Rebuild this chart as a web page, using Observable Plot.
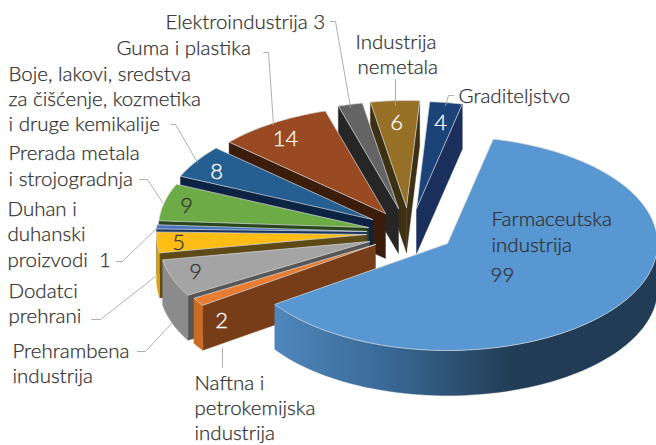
<!DOCTYPE html>
<html><head><meta charset="utf-8">
<style>html,body{margin:0;padding:0;background:#fff}svg{display:block}</style>
<script src="https://cdn.jsdelivr.net/npm/d3@7"></script>
<script src="https://cdn.jsdelivr.net/npm/@observablehq/plot@0.6"></script>
</head><body><div id="chart"></div>
<script>
// Slices, in drawing order (back to front); the big slice comes last
const categories = ["Graditeljstvo","Industrija nemetala","Elektroindustrija","Guma i plastika","Boje, lakovi, sredstva za čišćenje, kozmetika i druge kemikalije","Prerada metala i strojogradnja","Duhan i duhanski proizvodi","Dodatci prehrani","Prehrambena industrija","Naftna i petrokemijska industrija","Farmaceutska industrija"];
const values = [4,6,3,14,8,9,1,5,9,2,99];
// Where each exploded slice has its apex
const apexX = [416,406,398,385,372,368,366,366,369,375,447];
const apexY = [208,207,208,213,219,227,231,234,241,244,243];
const topColors = ["#1b4377","#967027","#646464","#9a4a22","#255e91","#6cab45","#4a74bb","#fdbd14","#a3a4a3","#e87d32","#5897d1"];
const wallColors = ["#1a2f5c","#3e3113","#262626","#3c1d0c","#0d2343","#2a451c","#1c3560","#5e4a16","#565656","#773d18","#4a80b5"];
const outerColors = ["#1a2f5c","#3e3113","#262626","#3c1d0c","#0d2343","#2a451c","#3c64a8","#d9a31c","#8b8b8b","#cb6c25","url(#bigSide)"];
const firstEndAngle = 12.6, rx = 210, ry = 107, depth = 45;
// Labels
const labelLines = ["Elektroindustrija 3","Guma i plastika","Boje, lakovi, sredstva","za čišćenje, kozmetika","i druge kemikalije","Prerada metala","i strojogradnja","Duhan i","duhanski","proizvodi  1","Dodatci","prehrani","Prehrambena","industrija","Naftna i","petrokemijska","industrija","Industrija","nemetala","Graditeljstvo","Farmaceutska","industrija","99"];
const labelX = [165,116,8,8,8,8,8,7,7,7,8,8,12,12,194,194,194,355,357,458,491,491,490];
const labelY = [22,48,74,99,124,153,179,209,234,260,291,316,351,376,383,408,433,42,67,96,219,245,275];
const valueLabels = ["4","6","14","8","9","5","9","2"];
const valueX = [440,396,285,216,186,178,195,221];
const valueY = [122,122,138,171,205,242,271,320];
const valueFill = ["#fff","#fff","#fff","#fff","#333","#333","#333","#fff"];
const leaderX = [[330,335,350],[263,268,273],[171,175,197],[139,147,162],[116,122,156],[91,100,155],[137,145,172],[222,222],[395,395],[453,448,445]];
const leaderY = [[21,21,107],[52,52,124],[124,124,162],[179,179,202],[261,261,228],[319,319,276],[351,351,322],[348,367],[79,105],[95,95,105]];

const rad = Math.PI/180;
const total = d3.sum(values);
const pt = (cx,cy,a) => ({x: cx+rx*Math.sin(a*rad), y: cy-ry*Math.cos(a*rad)});
const arc = (cx,cy,a0,a1) => { const n = Math.max(2,Math.ceil((a1-a0)/2)); return d3.range(n+1).map(i=>pt(cx,cy,a0+(a1-a0)*i/n)); };
const down = (pts) => pts.map(d=>({x:d.x,y:d.y+depth})).reverse();
const face = (pts,fill,stroke,w) => Plot.line([...pts,pts[0]],{x:"x",y:"y",fill,stroke:stroke||fill,strokeWidth:w||0.4,curve:"linear",strokeLinejoin:"round"});
const marks = [];
marks.push(() => {
  const defs = d3.create("svg:defs");
  const g = defs.append("linearGradient").attr("id","bigSide").attr("gradientUnits","userSpaceOnUse").attr("x1",273).attr("x2",515).attr("y1",0).attr("y2",0);
  g.append("stop").attr("offset",0).attr("stop-color","#4f87bd");
  g.append("stop").attr("offset",0.45).attr("stop-color","#3a6a97");
  g.append("stop").attr("offset",1).attr("stop-color","#213c54");
  return defs.node();
});
let end = firstEndAngle;
values.forEach((v,i) => {
  const start = end - v/total*360;
  const cx = apexX[i], cy = apexY[i];
  const apex = {x:cx,y:cy};
  const isBig = i === values.length-1;
  if (!isBig) {
    if (Math.sin(start*rad) < 0) { const e=[apex,pt(cx,cy,start)]; marks.push(face([...e,...down(e)],wallColors[i])); }
    if (Math.sin(end*rad) > 0) { const e=[apex,pt(cx,cy,end)]; marks.push(face([...e,...down(e)],wallColors[i])); }
  }
  // near part of the rim
  if (isBig) { const r = arc(cx,cy,90,end+360); marks.push(face([...r,...down(r)],outerColors[i])); }
  else if (start < -90) { const r = arc(cx,cy,start,Math.min(end,-90)); marks.push(face([...r,...down(r)],outerColors[i])); }
  // top surface with its light edge
  marks.push(face([apex,...arc(cx,cy,start,end)],topColors[i],"#d9dde0",0.7));
  end = start;
});
leaderX.forEach((xs,j) => {
  const rows = xs.map((x,k)=>({x,y:leaderY[j][k]}));
  marks.push(Plot.line(rows,{x:"x",y:"y",stroke:"#a6a6a6",strokeWidth:0.9,curve:"linear"}));
});
const labelRows = labelLines.map((text,i)=>({text,x:labelX[i],y:labelY[i]}));
marks.push(Plot.text(labelRows,{x:"x",y:"y",text:"text",textAnchor:"start",lineAnchor:"middle",fontSize:20.5,fontWeight:300,fill:"#303030",stroke:"#303030",strokeWidth:0.25}));
const valueRows = valueLabels.map((text,i)=>({text,x:valueX[i],y:valueY[i],fill:valueFill[i]}));
["#fff","#333"].forEach(c => marks.push(Plot.text(valueRows.filter(d=>d.fill===c),{x:"x",y:"y",text:"text",lineAnchor:"middle",fontSize:22,fontWeight:300,fill:c,stroke:c,strokeWidth:0.3})));

const chart = Plot.plot({
  width:656,height:445,margin:0,
  style:{fontFamily:"Lato, sans-serif",background:"#fff"},
  x:{domain:[0,656],range:[0,656],axis:null},
  y:{domain:[0,445],range:[0,445],axis:null},
  marks
});
document.getElementById("chart").append(chart);
</script>
</body></html>
